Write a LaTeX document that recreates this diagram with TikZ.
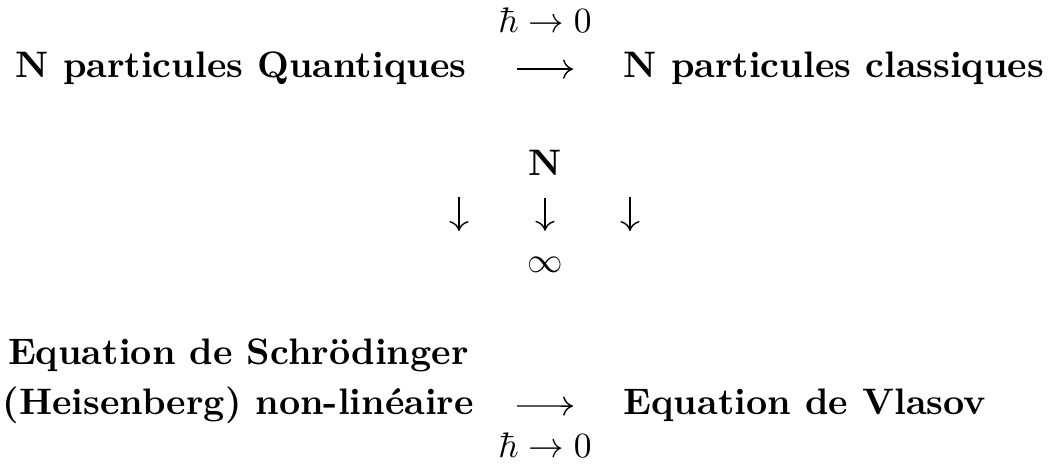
\documentclass[tikz,border=0pt]{standalone}
\usetikzlibrary{arrows.meta}
\tikzset{
  txt/.style={inner sep=0pt, font=\fontsize{10.4}{12.5}\selectfont\bfseries},
  mth/.style={inner sep=0pt},
  cmarrow/.style={line width=0.4pt, -{Computer Modern Rightarrow[length=2.8pt,width=5.4pt]}},
}
\begin{document}
\begin{tikzpicture}[x=0.282pt, y=-0.282pt]
\useasboundingbox (0,0) rectangle (1057,471);
% top row
\node[txt, anchor=base east] (qt) at (467,78) {N particules Quantiques};
\node[txt, anchor=base west] (ct) at (623,78) {N particules classiques};
\node[mth, anchor=base] (h1) at (545,33) {$\hbar\to 0$};
\draw[cmarrow, shorten <=14.1pt, shorten >=14.1pt] ([yshift=2.5pt]qt.base east) -- ([yshift=2.5pt]ct.base west);
% middle
\node[txt, anchor=base] (n) at (545,176) {N};
\node[mth, anchor=base] (inf) at (545,273) {$\infty$};
\draw[cmarrow, shorten <=5.9pt, shorten >=7.4pt] (n.south) -- (inf.north);
\coordinate (la) at (459,197);
\coordinate (lb) at (459,231);
\coordinate (ra) at (630,197);
\coordinate (rb) at (630,231);
\draw[cmarrow] (la) -- (lb);
\draw[cmarrow] (ra) -- (rb);
% bottom row
\node[txt, anchor=base west] (es2) at (2,415) {(Heisenberg) non-linéaire};
\node[txt, anchor=base] (es1) at ([yshift=14.1pt]es2.base) {Equation de Schrödinger};
\node[txt, anchor=base west] (vl) at (623,415) {Equation de Vlasov};
\node[mth, anchor=base] (h2) at (545,458) {$\hbar\to 0$};
\coordinate (ba) at (517,406);
\draw[cmarrow, shorten >=14.1pt] (ba) -- ([yshift=2.5pt]vl.base west);
\end{tikzpicture}
\end{document}
